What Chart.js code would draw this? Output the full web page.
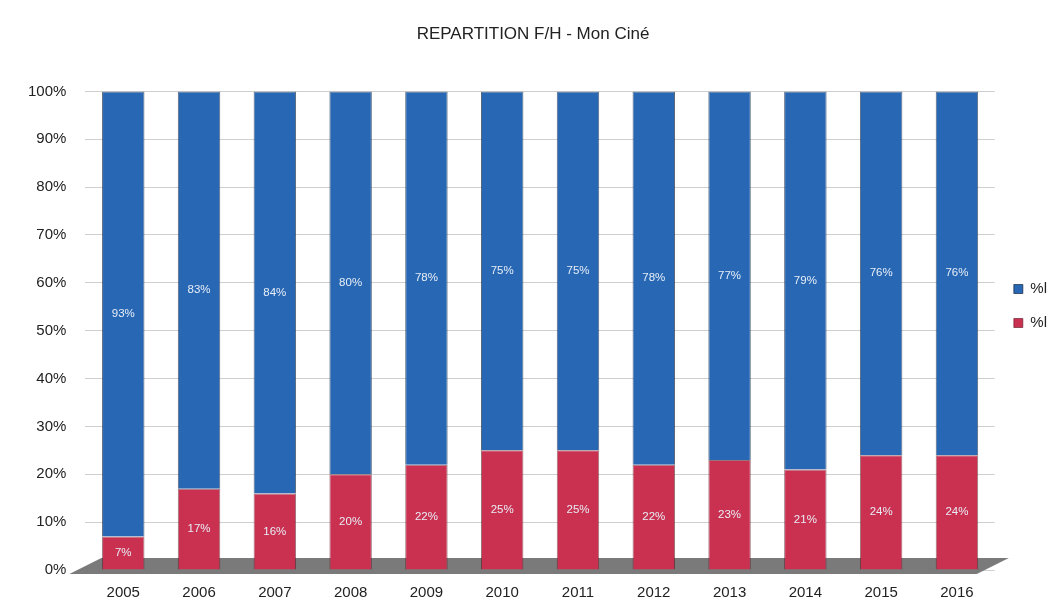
<!DOCTYPE html>
<html>
<head>
<meta charset="utf-8">
<script src="https://cdn.jsdelivr.net/npm/chart.js@4/dist/chart.umd.min.js"></script>
<style>
  html, body { margin: 0; padding: 0; background: #fff; }
  #wrap { width: 1053px; height: 603px; }
</style>
</head>
<body>
<div id="wrap"><canvas id="repartition"></canvas></div>
<script>
const years = ['2005', '2006', '2007', '2008', '2009', '2010', '2011', '2012', '2013', '2014', '2015', '2016'];
const femmes = [7, 17, 16, 20, 22, 25, 25, 22, 23, 21, 24, 24];
const hommes = [93, 83, 84, 80, 78, 75, 75, 78, 77, 79, 76, 76];
const yTicks = [0, 10, 20, 30, 40, 50, 60, 70, 80, 90, 100];

const blue = 'rgb(39, 103, 180)';
const red = 'rgb(202, 48, 80)';

// grey floor under the bars, like the 3d excel chart
const floorPlugin = {
    id: 'floor',
    beforeDatasetsDraw(chart) {
        const { ctx, chartArea } = chart;
        const b = chartArea.bottom;
        ctx.save();
        ctx.fillStyle = '#7a7a7a';
        ctx.beginPath();
        ctx.moveTo(chartArea.left - 16, b + 4);
        ctx.lineTo(chartArea.right - 18, b + 4);
        ctx.lineTo(chartArea.right + 14, b - 12);
        ctx.lineTo(chartArea.left + 16, b - 12);
        ctx.closePath();
        ctx.fill();
        ctx.restore();
    },
};

// values written in the middle of each segment
const labelPlugin = {
    id: 'segLabels',
    afterDatasetsDraw(chart) {
        const { ctx } = chart;
        ctx.save();
        ctx.font = '11.5px "Liberation Sans", Arial, sans-serif';
        ctx.fillStyle = '#e8eef7';
        ctx.textAlign = 'center';
        ctx.textBaseline = 'middle';
        chart.data.datasets.forEach((ds, i) => {
            chart.getDatasetMeta(i).data.forEach((bar, j) => {
                const p = bar.getProps(['x', 'y', 'base'], true);
                ctx.fillText(ds.data[j] + '%', p.x, (p.y + p.base) / 2);
            });
        });
        ctx.restore();
    },
};

new Chart(document.getElementById('repartition'), {
    type: 'bar',
    data: {
        labels: years,
        datasets: [
            {
                label: '%l',
                data: femmes,
                backgroundColor: red,
                borderColor: 'rgba(90, 20, 35, 0.6)',
                borderWidth: 1,
            },
            {
                label: '%l',
                data: hommes,
                backgroundColor: blue,
                borderColor: 'rgba(20, 40, 70, 0.7)',
                borderWidth: 1,
            },
        ],
    },
    options: {
        responsive: true,
        maintainAspectRatio: false,
        animation: false,
        datasets: {
            bar: { categoryPercentage: 1, barPercentage: 0.56 },
        },
        layout: { padding: { left: 9, right: -4, top: 4, bottom: -5 } },
        scales: {
            x: {
                stacked: true,
                grid: { display: false },
                border: { display: false },
                ticks: {
                    color: '#222',
                    font: { size: 15, family: '"Liberation Sans", Arial, sans-serif' },
                    padding: 6,
                },
            },
            y: {
                stacked: true,
                min: 0,
                max: 100,
                afterBuildTicks: (axis) => {
                    axis.ticks = yTicks.map((v) => ({ value: v }));
                },
                grid: { color: '#cfcfcf', drawTicks: false },
                border: { display: false },
                ticks: {
                    color: '#222',
                    padding: 19,
                    font: { size: 15, family: '"Liberation Sans", Arial, sans-serif' },
                    callback: (v) => v + '%',
                },
            },
        },
        plugins: {
            title: {
                display: true,
                text: 'REPARTITION F/H - Mon Ciné',
                color: '#222',
                font: { size: 17, weight: 'normal', family: '"Liberation Sans", Arial, sans-serif' },
                padding: { top: 20, bottom: 47 },
            },
            legend: {
                display: true,
                position: 'right',
                reverse: true,
                labels: {
                    boxWidth: 9,
                    boxHeight: 9,
                    color: '#222',
                    padding: 19,
                    font: { size: 15, family: '"Liberation Sans", Arial, sans-serif' },
                },
            },
            tooltip: { enabled: false },
        },
    },
    plugins: [floorPlugin, labelPlugin],
});
</script>
</body>
</html>
